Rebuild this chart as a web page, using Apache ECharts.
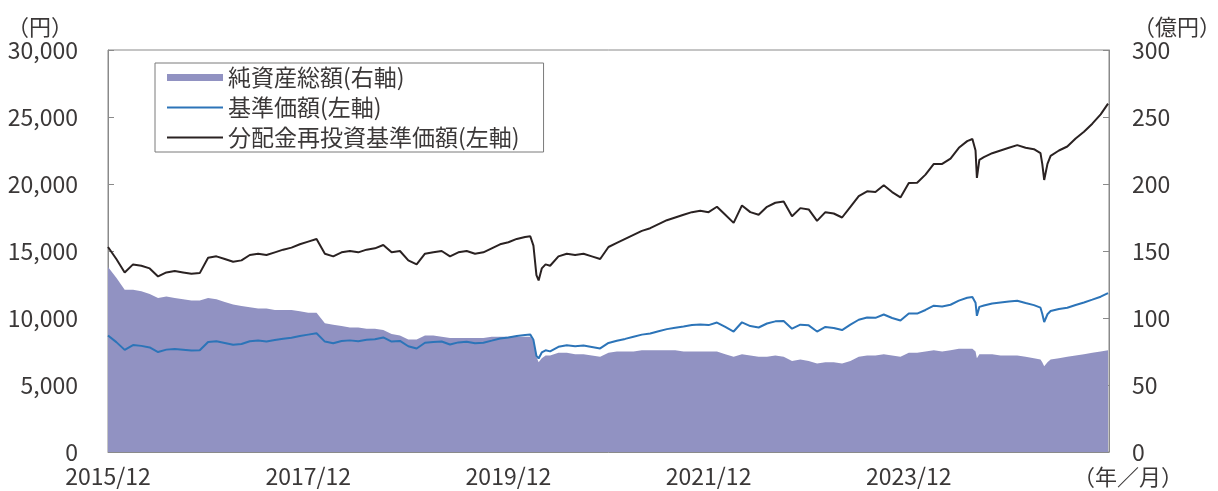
<!DOCTYPE html>
<html><head><meta charset="utf-8">
<script src="https://cdn.jsdelivr.net/npm/echarts@6/dist/echarts.min.js"></script>
<style>html,body{margin:0;padding:0;background:#fff}#c{width:1218px;height:491px}</style>
</head><body><div id="c"></div>
<script>
// ---- data ----
const dates = [
 '2015/12/01',
 '2016/01/01','2016/02/01','2016/03/01','2016/04/01','2016/05/01','2016/06/01','2016/07/01','2016/08/01','2016/09/01','2016/10/01','2016/11/01','2016/12/01',
 '2017/01/01','2017/02/01','2017/03/01','2017/04/01','2017/05/01','2017/06/01','2017/07/01','2017/08/01','2017/09/01','2017/10/01','2017/11/01','2017/12/01',
 '2018/01/01','2018/02/01','2018/03/01','2018/04/01','2018/05/01','2018/06/01','2018/07/01','2018/08/01','2018/09/01','2018/10/01','2018/11/01','2018/12/01',
 '2019/01/01','2019/02/01','2019/03/01','2019/04/01','2019/05/01','2019/06/01','2019/07/01','2019/08/01','2019/09/01','2019/10/01','2019/11/01','2019/12/01',
 '2020/01/01','2020/02/01','2020/02/20','2020/03/01','2020/03/12','2020/03/20','2020/04/01','2020/04/15','2020/05/01','2020/06/01','2020/07/01','2020/08/01','2020/09/01','2020/10/01','2020/11/01','2020/12/01',
 '2021/01/01','2021/02/01','2021/03/01','2021/04/01','2021/05/01','2021/06/01','2021/07/01','2021/08/01','2021/09/01','2021/10/01','2021/11/01','2021/12/01',
 '2022/01/01','2022/02/01','2022/03/01','2022/04/01','2022/05/01','2022/06/01','2022/07/01','2022/08/01','2022/09/01','2022/10/01','2022/11/01','2022/12/01',
 '2023/01/01','2023/02/01','2023/03/01','2023/04/01','2023/05/01','2023/06/01','2023/07/01','2023/08/01','2023/09/01','2023/10/01','2023/11/01','2023/12/01',
 '2024/01/01','2024/02/01','2024/03/01','2024/04/01','2024/05/01','2024/06/01','2024/07/01','2024/07/20','2024/08/01','2024/08/06','2024/08/15','2024/09/01','2024/10/01','2024/11/01','2024/12/01',
 '2025/01/01','2025/02/01','2025/03/01','2025/03/25','2025/04/01','2025/04/08','2025/04/20','2025/05/01','2025/06/01','2025/07/01','2025/08/01','2025/09/01','2025/10/01','2025/11/01','2025/11/28'
];
// 純資産総額（億円, 右軸）
const netAssets = [
 138,
 130,121,121,120,118,115,116,115,114,113,113,115,
 114,112,110,109,108,107,107,106,106,106,105,104,
 104,96,95,94,93,93,92,92,91,88,87,84,
 84,87,87,86,85,85,85,85,85,86,86,86,
 86,86,86,83,71,67,70,72,72,74,74,73,73,72,71,74,
 75,75,75,76,76,76,76,76,75,75,75,75,
 75,73,71,73,72,71,71,72,71,68,69,68,
 66,67,67,66,68,71,72,72,73,72,71,74,
 74,75,76,75,76,77,77,77,75,70,73,73,73,72,72,
 72,71,70,69,67,64,67,69,70,71,72,73,74,75,76
];
// 基準価額（円, 左軸）
const nav = [
 8700,
 8200,7620,7980,7920,7800,7460,7640,7690,7630,7570,7590,8210,
 8260,8140,8010,8060,8270,8320,8250,8350,8450,8530,8660,8760,
 8860,8240,8120,8280,8330,8270,8370,8420,8550,8240,8290,7890,
 7720,8150,8200,8250,8020,8180,8230,8110,8160,8310,8470,8540,
 8660,8740,8760,8370,7170,6980,7430,7590,7510,7850,7960,7900,7950,7840,7730,8140,
 8300,8440,8600,8760,8850,9010,9170,9280,9360,9470,9520,9470,
 9660,9330,8990,9680,9400,9290,9590,9750,9780,9200,9500,9450,
 8990,9330,9260,9100,9500,9870,10040,10010,10260,10000,9810,10340,
 10330,10600,10920,10860,10990,11300,11510,11560,11140,10160,10830,10930,11080,11160,11240,
 11290,11120,10960,10770,10320,9700,10280,10520,10670,10760,10970,11160,11370,11590,11860
];
// 分配金再投資基準価額（円, 左軸）
const navReinvested = [
 15300,
 14400,13400,14000,13900,13700,13100,13400,13500,13400,13300,13350,14500,
 14600,14400,14200,14300,14700,14800,14700,14900,15100,15250,15500,15700,
 15900,14800,14600,14900,15000,14900,15100,15200,15450,14900,15000,14300,
 14000,14800,14900,15000,14600,14900,15000,14800,14900,15200,15500,15650,
 15900,16050,16100,15400,13200,12800,13700,14000,13900,14600,14800,14700,14800,14600,14400,15300,
 15600,15900,16200,16500,16700,17000,17300,17500,17700,17900,18000,17900,
 18300,17700,17100,18400,17900,17700,18300,18600,18700,17600,18200,18100,
 17250,17900,17800,17500,18300,19100,19450,19400,19900,19400,19000,20070,
 20100,20700,21500,21500,21900,22700,23200,23360,22500,20450,21800,22000,22300,22500,22700,
 22900,22700,22600,22300,21500,20300,21500,22100,22500,22800,23400,23900,24500,25200,26000
];
const xTickLabels = ['2015/12','2017/12','2019/12','2021/12','2023/12',''];
const seriesNames = ['純資産総額(右軸)','基準価額(左軸)','分配金再投資基準価額(左軸)'];
const unitLeft = '（円）', unitRight = '（億円）', unitX = '（年／月）';

// months elapsed since 2015/12/01
function toMonth(s){const p=s.split('/').map(Number);return (p[0]-2015)*12+(p[1]-12)+(p[2]-1)/30.5;}
const xs = dates.map(toMonth);
const pair = arr => arr.map((v,i)=>[xs[i],v]);

const FONT = "'Noto Sans CJK JP','Liberation Sans',sans-serif";
const TXT = '#3b3838';
const AREA = '#9192c2', BLUE = '#2c74b8', BLACK = '#2a2222', FRAME = '#8a8a8a';

const chart = echarts.init(document.getElementById('c'), null, {renderer:'canvas'});
chart.setOption({
  animation:false,
  backgroundColor:'#fff',
  textStyle:{fontFamily:FONT,color:TXT},
  grid:{left:108,right:109,top:50,bottom:39,show:true,borderColor:FRAME,borderWidth:1,backgroundColor:'transparent'},
  legend:{
    orient:'vertical',left:155,top:63,
    itemWidth:56,itemHeight:14,itemGap:7,
    padding:[3,24,3,12],
    borderColor:'#7a7a7a',borderWidth:1,backgroundColor:'#fff',
    textStyle:{fontSize:23,fontFamily:FONT,color:TXT},
    data:[
      {name:seriesNames[0],icon:'path://M0 0H56V7H0Z',itemStyle:{color:AREA}},
      {name:seriesNames[1],icon:'path://M0 0H56V2H0Z',itemStyle:{color:BLUE}},
      {name:seriesNames[2],icon:'path://M0 0H56V2H0Z',itemStyle:{color:BLACK}}
    ]
  },
  xAxis:{
    type:'value',min:0,max:120,interval:24,
    axisLine:{lineStyle:{color:FRAME}},
    axisTick:{inside:true,length:6,lineStyle:{color:FRAME}},
    splitLine:{show:false},
    axisLabel:{margin:13,fontSize:23,fontFamily:FONT,color:TXT,formatter:v=>xTickLabels[Math.round(v/24)]||''}
  },
  yAxis:[
    {type:'value',min:0,max:30000,interval:5000,position:'left',
     axisLine:{show:true,lineStyle:{color:FRAME}},
     axisTick:{show:true,inside:true,length:6,lineStyle:{color:FRAME}},
     splitLine:{show:false},
     axisLabel:{margin:30,fontSize:23,fontFamily:FONT,color:TXT,formatter:v=>v.toLocaleString('en-US')}},
    {type:'value',min:0,max:300,interval:50,position:'right',
     axisLine:{show:true,lineStyle:{color:FRAME}},
     axisTick:{show:true,inside:true,length:6,lineStyle:{color:FRAME}},
     splitLine:{show:false},
     axisLabel:{margin:23,fontSize:23,fontFamily:FONT,color:TXT}}
  ],
  series:[
    {name:seriesNames[0],type:'line',yAxisIndex:1,data:pair(netAssets),showSymbol:false,symbol:'none',
     color:AREA,lineStyle:{width:0,color:AREA},areaStyle:{color:AREA,opacity:1},z:1},
    {name:seriesNames[1],type:'line',yAxisIndex:0,data:pair(nav),showSymbol:false,symbol:'none',
     color:BLUE,lineStyle:{width:2,color:BLUE},z:3},
    {name:seriesNames[2],type:'line',yAxisIndex:0,data:pair(navReinvested),showSymbol:false,symbol:'none',
     color:BLACK,lineStyle:{width:2,color:BLACK},z:3}
  ],
  graphic:[
    {type:'text',left:7,top:16,style:{text:unitLeft,font:"22px "+FONT,fill:TXT}},
    {type:'text',left:1133,top:16,style:{text:unitRight,font:"22px "+FONT,fill:TXT}},
    {type:'text',left:1073,top:466,style:{text:unitX,font:"22px "+FONT,fill:TXT}}
  ]
});
</script>
</body></html>
